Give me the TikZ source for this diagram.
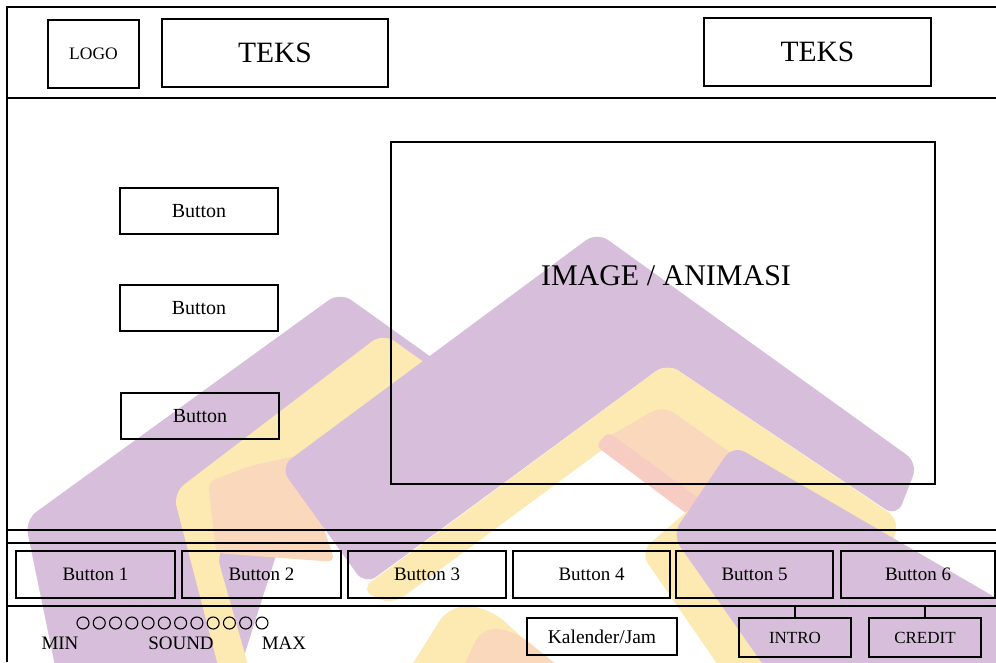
\documentclass[tikz,border=0pt]{standalone}
\usepackage{fontspec}
\setmainfont{Liberation Serif}
\newcommand\fsz[1]{\fontsize{#1}{#1}\selectfont}
\definecolor{wmpurple}{RGB}{215,190,218}
\definecolor{wmyellow}{RGB}{252,234,178}
\definecolor{wmpeach}{RGB}{250,216,188}
\definecolor{wmpink}{RGB}{247,204,194}
\begin{document}
\begin{tikzpicture}[x=1pt,y=-1pt,
  rule/.style={draw=black,line width=1.4pt},
  wbox/.style={draw=black,line width=1.4pt,rectangle,inner sep=0pt},
  wm/.style={rounded corners=14pt},
  dot/.style={draw=black,line width=1.1pt,circle,inner sep=0pt,minimum size=12pt}]
\useasboundingbox (0,0) rectangle (996,662);

% ---- background emblem (chevrons) ----
\begin{scope}
\clip (0,0) rectangle (996,662);
% left chevron
\fill[wmpurple,wm] (62,700) -- (25,520) -- (340,292) -- (480,392) -- (300,480) -- (230,700) -- cycle;
\fill[wmyellow,wm] (227,700) -- (173,493) -- (383,333) -- (470,395) -- (300,480) -- (216,552) -- (258,700) -- cycle;
\fill[wmpeach,rounded corners=8pt] (208,482) -- (250,466) -- (300,455) -- (335,562) -- (216,553) -- cycle;
% large central chevron
\fill[wmpurple,wm] (280,467) -- (597,232) -- (918,463) -- (897,517) -- (667,363) -- (365,585) -- cycle;
\fill[wmyellow,wm] (360,590) -- (667,363) -- (900,520) -- (885,562) -- (663,405) -- (392,605) -- cycle;
\fill[wmpeach,wm] (598,443) -- (663,405) -- (880,558) -- (790,610) -- (695,512) -- (612,452) -- cycle;
\fill[wmpink,rounded corners=6pt] (596,446) -- (608,432) -- (708,505) -- (695,520) -- cycle;
% lower central chevron
\fill[wmyellow,rounded corners=20pt] (390,700) -- (450,604) -- (490,608) -- (590,700) -- cycle;
\fill[wmpeach,rounded corners=16pt] (448,700) -- (482,627) -- (515,631) -- (600,700) -- cycle;
% right chevron
\fill[wmyellow,wm] (700,500) -- (640,552) -- (742,700) -- (790,700) -- cycle;
\fill[wmpurple,wm] (672,535) -- (733,445) -- (1010,606) -- (1010,700) -- (788,700) -- cycle;
\end{scope}

% ---- page frame and dividers ----
\coordinate (tl) at (7,7);
\coordinate (tr) at (996,7);
\coordinate (bl) at (7,662);
\coordinate (hA) at (7,98);
\coordinate (hB) at (7,530);
\coordinate (hC) at (7,543);
\coordinate (hD) at (7,606);
\draw[rule] (bl) -- (tl) -- (tr);
\foreach \c in {hA,hB,hC,hD} \draw[rule] (\c) -- (\c -| tr);

% ---- header ----
\node[wbox,minimum width=91pt,minimum height=68pt,font=\fsz{17.5}] (logo) at (93.5,54) {LOGO};
\node[wbox,minimum width=226pt,minimum height=68pt,font=\fsz{29.5}] (teksA) at (275,53) {TEKS};
\node[wbox,minimum width=227pt,minimum height=68pt,font=\fsz{29.5}] (teksB) at (817.5,52) {TEKS};

% ---- content area ----
\node[wbox,minimum width=544pt,minimum height=342pt] (media) at (663,313) {};
\node[font=\fsz{30},inner sep=0pt] (mediatext) at (666,276) {IMAGE / ANIMASI};
\node[wbox,minimum width=158pt,minimum height=46pt,font=\fsz{20}] (side1) at (199,211) {Button};
\node[wbox,minimum width=158pt,minimum height=46pt,font=\fsz{20}] (side2) at (199,308) {Button};
\node[wbox,minimum width=158pt,minimum height=46pt,font=\fsz{20}] (side3) at (200,416) {Button};

% ---- navigation bar ----
\node[wbox,minimum width=159pt,minimum height=47pt,font=\fsz{19}] (nav1) at (95.5,574.5) {Button 1};
\node[wbox,minimum width=159pt,minimum height=47pt,font=\fsz{19}] (nav2) at (261.5,574.5) {Button 2};
\node[wbox,minimum width=158pt,minimum height=47pt,font=\fsz{19}] (nav3) at (427,574.5) {Button 3};
\node[wbox,minimum width=157pt,minimum height=47pt,font=\fsz{19}] (nav4) at (591.5,574.5) {Button 4};
\node[wbox,minimum width=157pt,minimum height=47pt,font=\fsz{19}] (nav5) at (754.5,574.5) {Button 5};
\node[wbox,minimum width=154pt,minimum height=47pt,font=\fsz{19}] (nav6) at (918,574.5) {Button 6};

% ---- footer ----
\foreach \i in {0,...,11} \node[dot] (vol\i) at ({83+16.27*\i},623) {};
\node[font=\fsz{19},inner sep=0pt] (vmin) at (60,643) {MIN};
\node[font=\fsz{19},inner sep=0pt] (vsound) at (181,643) {SOUND};
\node[font=\fsz{19},inner sep=0pt] (vmax) at (284,643) {MAX};
\node[wbox,minimum width=150pt,minimum height=37pt,font=\fsz{19.5}] (clock) at (602,636.5) {Kalender/Jam};
\node[wbox,minimum width=112pt,minimum height=39pt,font=\fsz{17}] (intro) at (795,637.5) {INTRO};
\node[wbox,minimum width=112pt,minimum height=39pt,font=\fsz{17}] (credit) at (925,637.5) {CREDIT};
\draw[rule] (intro.north) -- (intro.north |- hD);
\draw[rule] (credit.north) -- (credit.north |- hD);
\end{tikzpicture}
\end{document}
